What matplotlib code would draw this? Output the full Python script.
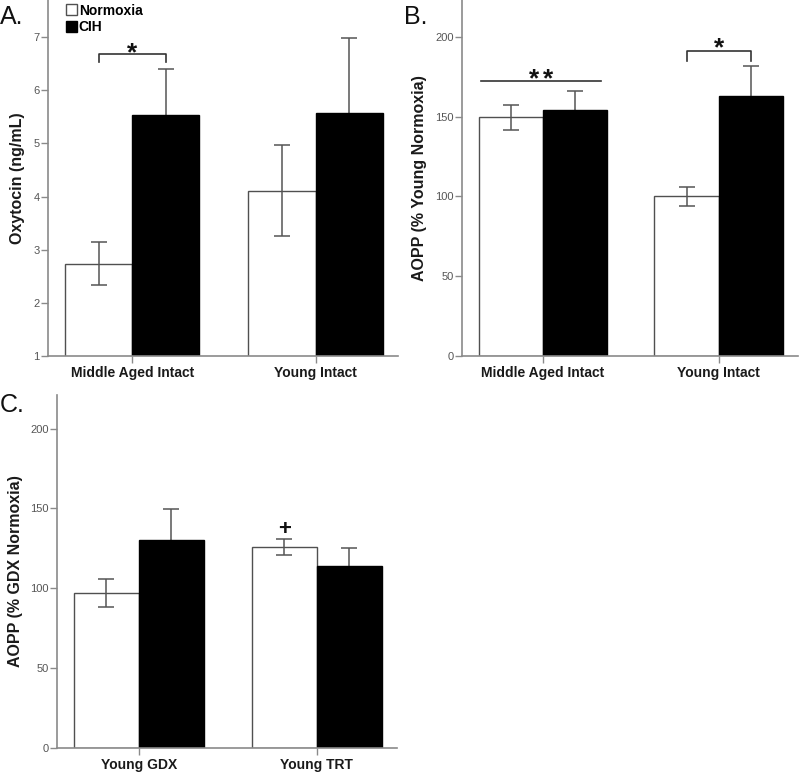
import matplotlib
matplotlib.use('Agg')
import matplotlib.pyplot as plt
import matplotlib.patches as mpatches

plt.rcParams['font.family'] = ['Liberation Sans', 'DejaVu Sans']

AXIS_GRAY = '#8a8a8a'
BAR_EDGE = '#505050'
ERR_COLOR = '#555555'

# Panel A: oxytocin
a_groups = ['Middle Aged Intact', 'Young Intact']
a_norm = [2.74, 4.11]
a_norm_err = [0.41, 0.86]
a_cih = [5.53, 5.58]
a_cih_err = [0.87, 1.41]
a_ticks = [1, 2, 3, 4, 5, 6, 7]

# Panel B: AOPP (% young normoxia)
b_groups = ['Middle Aged Intact', 'Young Intact']
b_norm = [149.5, 100.0]
b_norm_err = [8.0, 6.0]
b_cih = [154.0, 163.0]
b_cih_err = [12.0, 18.5]
b_ticks = [0, 50, 100, 150, 200]

# Panel C: AOPP (% GDX normoxia)
c_groups = ['Young GDX', 'Young TRT']
c_norm = [97.0, 126.0]
c_norm_err = [8.5, 5.0]
c_cih = [130.5, 114.0]
c_cih_err = [19.0, 11.5]
c_ticks = [0, 50, 100, 150, 200]

W = 0.366


def draw_panel(ax, groups, norm, norm_err, cih, cih_err, ticks, ylim, ylabel, label_x):
    xs = list(range(len(groups)))
    xn = [x - W / 2 for x in xs]
    xc = [x + W / 2 for x in xs]
    # CIH error bars behind the black bars, normoxia ones on top
    ax.errorbar(xc, cih, yerr=cih_err, fmt='none', ecolor=ERR_COLOR,
                elinewidth=1.1, capsize=6, capthick=1.1, zorder=1)
    ax.bar(xn, norm, W, color='white', edgecolor=BAR_EDGE, linewidth=1.0,
           zorder=2, label='Normoxia')
    ax.bar(xc, cih, W, color='black', edgecolor='black', linewidth=1.0,
           zorder=2, label='CIH')
    ax.errorbar(xn, norm, yerr=norm_err, fmt='none', ecolor=ERR_COLOR,
                elinewidth=1.1, capsize=6, capthick=1.1, zorder=3)

    ax.set_xlim(-0.46, 1.45)
    ax.set_ylim(*ylim)
    ax.set_yticks(ticks)
    ax.set_xticks(xs)
    ax.set_xticklabels(groups, fontsize=10, fontweight='bold', color='#1a1a1a')
    ax.tick_params(axis='y', colors=AXIS_GRAY, labelcolor='#555555',
                   labelsize=8, length=5, width=1, pad=1)
    ax.tick_params(axis='x', colors=AXIS_GRAY, labelcolor='#1a1a1a',
                   length=5, width=1, pad=2)
    for s in ['top', 'right']:
        ax.spines[s].set_visible(False)
    for s in ['left', 'bottom']:
        ax.spines[s].set_color(AXIS_GRAY)
        ax.spines[s].set_linewidth(1.2)
    ax.set_ylabel(ylabel, fontsize=11.5, fontweight='bold', color='#1a1a1a')
    ax.yaxis.set_label_coords(label_x, 0.5)


def bracket(ax, x0, x1, y_top, y_low, text, ty, size=19):
    ax.plot([x0, x0, x1, x1], [y_low, y_top, y_top, y_low], color='#333333',
            lw=1.2, clip_on=False, zorder=4)
    ax.text((x0 + x1) / 2, ty, text, ha='center', va='center',
            fontsize=size, fontweight='bold', color='#111111')


fig = plt.figure(figsize=(8.0, 7.72), dpi=100)

ax_a = fig.add_axes([0.06, 0.5389, 0.4375, 0.4611])
draw_panel(ax_a, a_groups, a_norm, a_norm_err, a_cih, a_cih_err, a_ticks,
           (1, 7.7), 'Oxytocin (ng/mL)', -0.066)
bracket(ax_a, -W / 2, W / 2, 6.68, 6.53, '*', 6.70)
leg_handles = [
    mpatches.Patch(facecolor='white', edgecolor=BAR_EDGE, label='Normoxia'),
    mpatches.Patch(facecolor='black', edgecolor='black', label='CIH'),
]
ax_a.legend(handles=leg_handles, loc='upper left', bbox_to_anchor=(0.05, 0.99),
            frameon=False, handlelength=0.85, handleheight=0.85,
            handletextpad=0.1, labelspacing=0.2, borderpad=0,
            borderaxespad=0, prop={'size': 10, 'weight': 'bold'})

ax_b = fig.add_axes([0.5775, 0.5389, 0.42, 0.4611])
draw_panel(ax_b, b_groups, b_norm, b_norm_err, b_cih, b_cih_err, b_ticks,
           (0, 223), 'AOPP (% Young Normoxia)', -0.104)
ax_b.plot([-0.35, 0.33], [172, 172], color='#333333', lw=1.2, zorder=4)
for dx in (-0.05, 0.03):
    ax_b.text(dx, 173.3, '*', ha='center', va='center', fontsize=19,
              fontweight='bold', color='#111111')
bracket(ax_b, 1 - W / 2, 1 + W / 2, 191, 184.5, '*', 193)

ax_c = fig.add_axes([0.07125, 0.0311, 0.425, 0.4572])
draw_panel(ax_c, c_groups, c_norm, c_norm_err, c_cih, c_cih_err, c_ticks,
           (0, 221), 'AOPP (% GDX Normoxia)', -0.10)
ax_c.text(1 - W / 2, 136.5, '+', ha='center', va='center', fontsize=16,
          fontweight='bold', color='#111111')

fig.text(0.0, 0.978, 'A.', fontsize=18, ha='left', va='center', color='#111111')
fig.text(0.505, 0.978, 'B.', fontsize=18, ha='left', va='center', color='#111111')
fig.text(0.0, 0.476, 'C.', fontsize=18, ha='left', va='center', color='#111111')

fig.savefig('out.png', dpi=100)
